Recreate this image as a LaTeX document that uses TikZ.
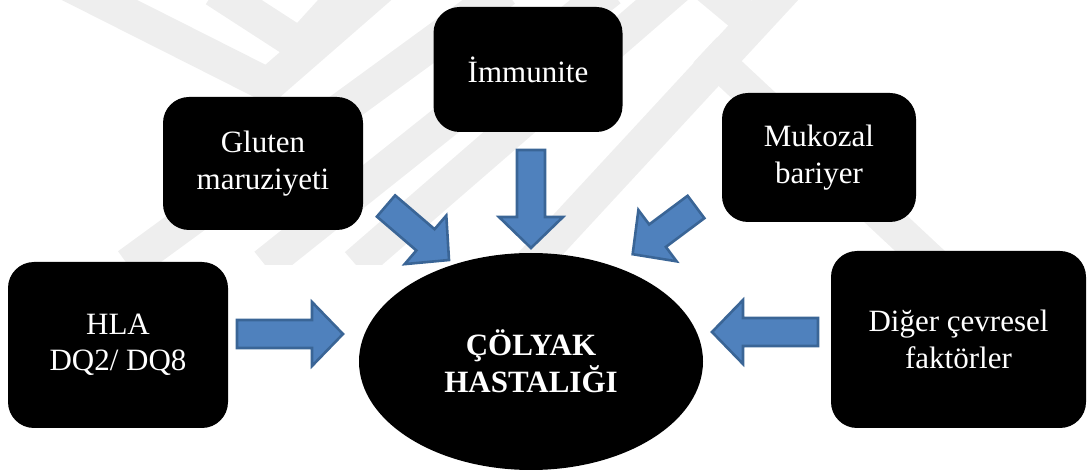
\documentclass[tikz,border=0pt]{standalone}
\usepackage{fontspec}
\setmainfont{Liberation Serif}
\usetikzlibrary{shapes.geometric}
\definecolor{arrowfill}{HTML}{4F81BD}
\definecolor{arrowline}{HTML}{3A6596}
\definecolor{wmgray}{HTML}{EEEEEE}
\newcommand\myblockarrow[3]{%
  \begin{scope}[shift={(#1)}, rotate=#2]
    \draw[barrow] (0,14) -- (#3-31,14) -- (#3-31,32) -- (#3,0) -- (#3-31,-32) -- (#3-31,-14) -- (0,-14) -- cycle;
  \end{scope}}
\begin{document}
\begin{tikzpicture}[x=1pt,y=-1pt,
  box/.style={fill=black, rounded corners=26pt, text=white, align=center,
    font=\fontsize{31}{36.5}\selectfont, inner sep=0pt},
  barrow/.style={fill=arrowfill, draw=arrowline, line width=2.6pt, line join=miter},
  wm/.style={draw=wmgray, line width=34pt, line join=miter}]
\useasboundingbox (0,0) rectangle (1088,470);
% watermark
\begin{scope}
  \clip (0,0) rectangle (1088,265);
  \draw[wm] (40,-30) -- (268,85) -- (400,-30);
  \draw[wm] (215,-10) -- (300,45) -- (350,-10);
  \draw[wm] (505,-10) -- (128,265);
  \draw[wm] (610,-10) -- (265,265);
  \draw[wm] (678,-14) -- (356,265);
  \draw[wm] (788,-14) -- (530,265);
  \draw[wm] (705,50) -- (935,265);
  \draw[wm] (700,-20) -- (760,30);
\end{scope}
% boxes
\node[box, minimum width=220pt, minimum height=166pt] (hla) at (118,345) {HLA\\DQ2/ DQ8};
\node[box, minimum width=200pt, minimum height=133pt] (glu) at (263,163.5) {Gluten\\maruziyeti};
\node[box, minimum width=189pt, minimum height=125pt] (imm) at (528,69.5) {İmmunite};
\node[box, minimum width=194pt, minimum height=129pt] (muk) at (819,157.5) {Mukozal\\bariyer};
\node[box, minimum width=255pt, minimum height=177pt] (dig) at (958.5,339.5) {Diğer çevresel\\faktörler};
\node[ellipse, fill=black, text=white, align=center, inner sep=0pt,
  minimum width=344pt, minimum height=217pt,
  font=\fontsize{31}{37}\selectfont\bfseries] (cd) at (531,361.5) {ÇÖLYAK\\HASTALIĞI};
% block arrows
\myblockarrow{237,334}{0}{106}
\myblockarrow{818,332}{180}{106}
\myblockarrow{531,150}{-90}{98}
\myblockarrow{386,206}{-40.6}{83}
\myblockarrow{696,207}{-143.3}{79}
\end{tikzpicture}
\end{document}
